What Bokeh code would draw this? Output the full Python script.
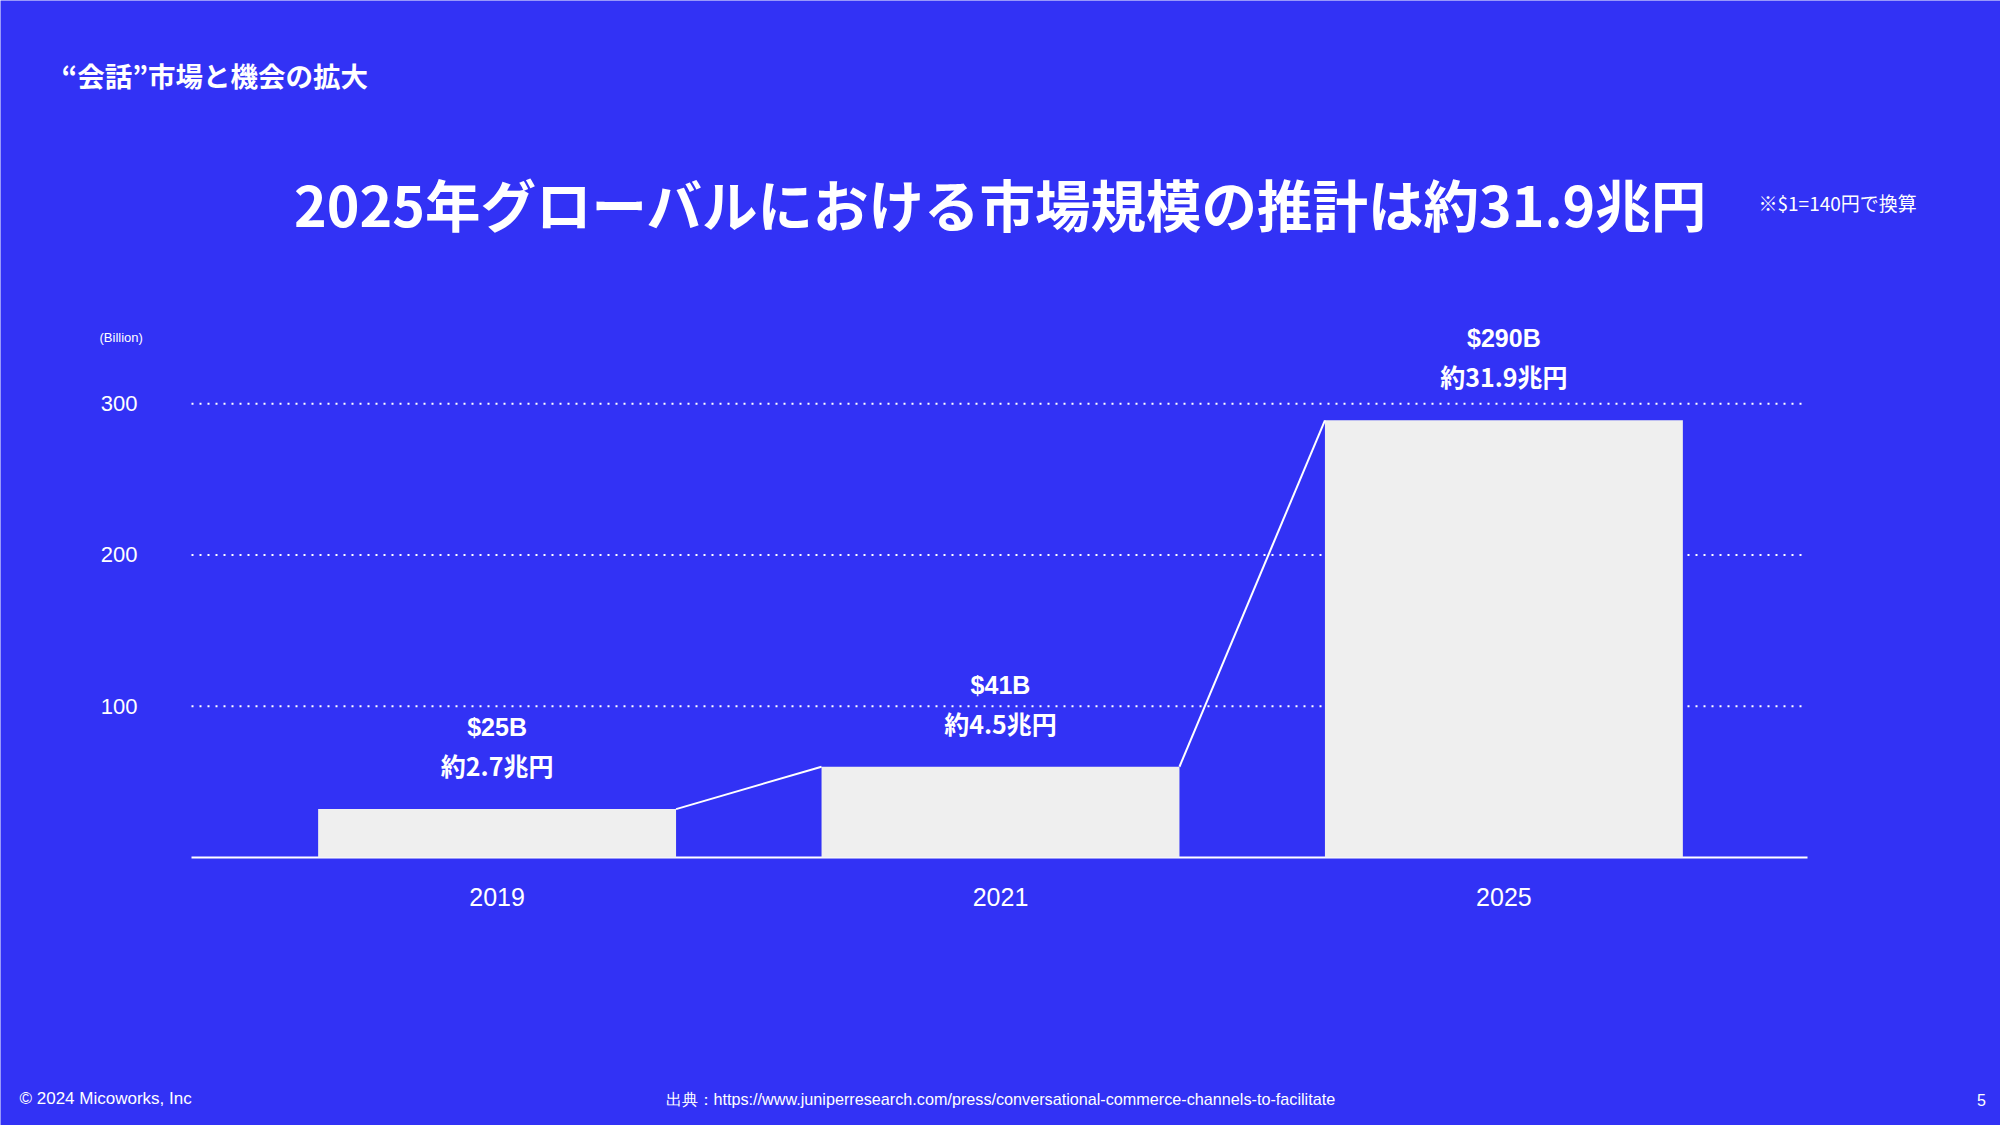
from bokeh.plotting import figure
from bokeh.models import ColumnDataSource, FactorRange, Range1d
from bokeh.transform import dodge
from bokeh.core.properties import value
from bokeh.embed import file_html
from bokeh.resources import INLINE

# ---- data ----
years = ["2019", "2021", "2025"]
bar_heights = [32, 60, 289]          # drawn bar heights (Billion USD scale)
usd_labels = ["$25B", "$41B", "$290B"]
yen_labels = ["約2.7兆円", "約4.5兆円", "約31.9兆円"]
y_ticks = [100, 200, 300]
y_tick_labels = ["100", "200", "300"]

BG = "#3232F5"
BAR = "#EFEFEF"
W, H = 2000, 1125
BAR_W = 0.711

# the plot frame covers the whole canvas; scales map data -> pixels
PAD = 0.4865                      # category padding (each side)
X0 = -PAD
PX_PER_X = W / (3 + 2 * PAD)
BASE_PX = 857                     # pixel row of value 0
PX_PER_Y = 1.5127                 # pixels per billion
Y_LO = (BASE_PX - H) / PX_PER_Y
Y_HI = BASE_PX / PX_PER_Y

p = figure(width=W, height=H, output_backend="svg", toolbar_location=None,
           x_range=FactorRange(factors=years, range_padding=PAD,
                               range_padding_units="absolute"),
           y_range=Range1d(Y_LO, Y_HI),
           x_axis_location=None, y_axis_location=None,
           min_border=0, min_border_left=0, min_border_right=0,
           min_border_top=0, min_border_bottom=0)
p.background_fill_color = BG
p.border_fill_color = BG
p.outline_line_color = None
p.grid.visible = False


def dx(px):
    return X0 + px / PX_PER_X


def dy(py):
    return (BASE_PX - py) / PX_PER_Y


# gridlines (dotted) and baseline
grid = ColumnDataSource(dict(x0=[dx(191)] * 3, x1=[dx(1805)] * 3, y=y_ticks))
p.segment(x0="x0", y0="y", x1="x1", y1="y", source=grid,
          line_color="white", line_width=2, line_dash="2 6")
p.segment(x0=[dx(191)], y0=[0], x1=[dx(1807)], y1=[0], line_color="white", line_width=2)

src = ColumnDataSource(dict(year=years, top=bar_heights, usd=usd_labels, yen=yen_labels))
p.vbar(x="year", top="top", width=BAR_W, source=src, fill_color=BAR, line_color=None)

# connecting lines between bar top corners
seg = ColumnDataSource(dict(x0=years[:-1], y0=bar_heights[:-1], x1=years[1:], y1=bar_heights[1:]))
p.segment(x0=dodge("x0", BAR_W / 2, range=p.x_range), y0="y0",
          x1=dodge("x1", -BAR_W / 2, range=p.x_range), y1="y1",
          source=seg, line_color="white", line_width=2)

p.text(x="year", y="top", text="usd", source=src, y_offset=-82,
       text_align="center", text_baseline="middle", text_color="white",
       text_font=value("Liberation Sans"), text_font_style="bold", text_font_size="25px")
p.text(x="year", y="top", text="yen", source=src, y_offset=-44,
       text_align="center", text_baseline="middle", text_color="white",
       text_font=value("Noto Sans CJK JP"), text_font_style="bold", text_font_size="25px")

# tick labels
p.text(x="year", y=dy(896), text="year", source=src,
       text_align="center", text_baseline="middle", text_color="white",
       text_font=value("Liberation Sans"), text_font_size="25px")
p.text(x=[dx(137)] * 3, y=y_ticks, text=y_tick_labels,
       text_align="right", text_baseline="middle", text_color="white",
       text_font=value("Liberation Sans"), text_font_size="22px")


def lab(x, y, text, size, font="Liberation Sans", style="normal", align="left"):
    p.text(x=[dx(x)], y=[dy(y)], text=[text], text_color="white",
           text_font=value(font), text_font_style=style, text_font_size=size,
           text_align=align, text_baseline="middle")


lab(61, 74, "“会話”市場と機会の拡大", "27.5px", "Noto Sans CJK JP", "bold")
lab(1000, 202, "2025年グローバルにおける市場規模の推計は約31.9兆円", "55.5px",
    "Noto Sans CJK JP", "bold", "center")
lab(1758, 202, "※$1=140円で換算", "19px", "Noto Sans CJK JP")
lab(99, 337, "(Billion)", "13px")
lab(19, 1098, "© 2024 Micoworks, Inc", "17px")
lab(665, 1098, "出典：https://www.juniperresearch.com/press/conversational-commerce-channels-to-facilitate", "16.2px")
lab(1981, 1099, "5", "16px", align="center")

open("out.html", "w").write(file_html(p, INLINE))
